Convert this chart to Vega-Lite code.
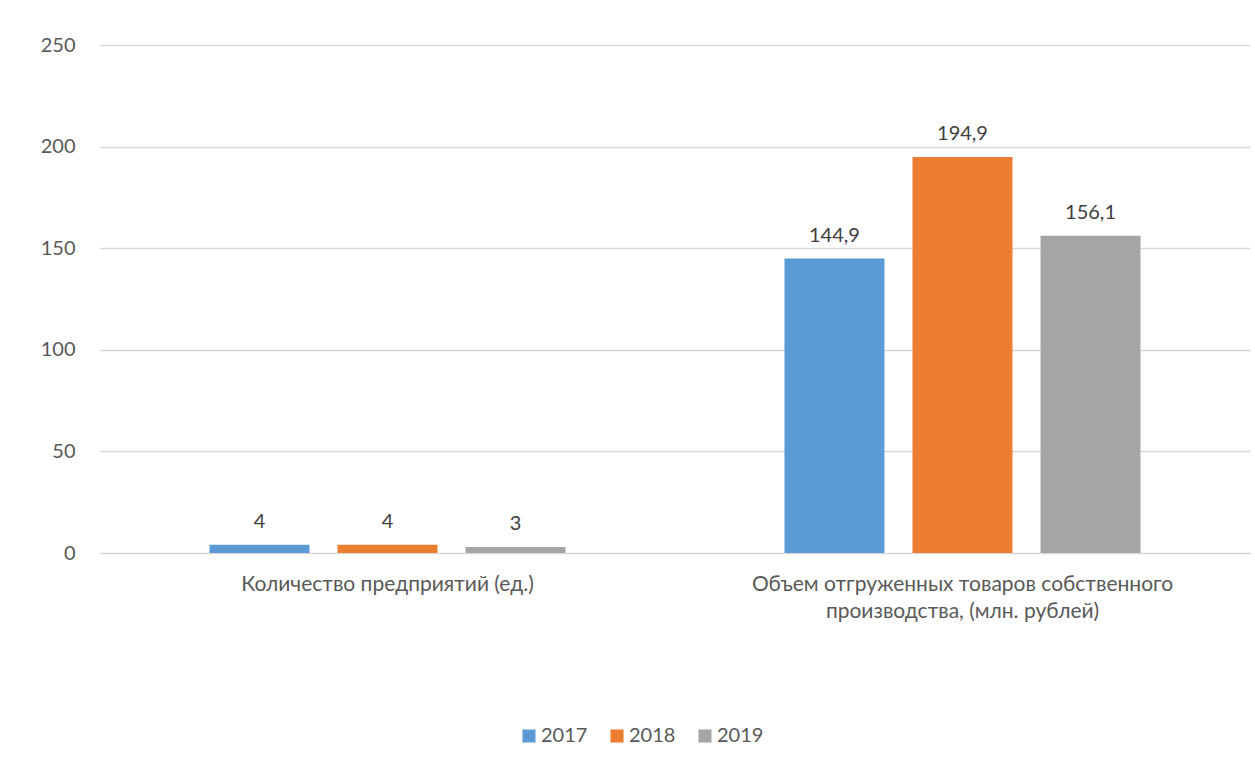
{
  "$schema": "https://vega.github.io/schema/vega-lite/v6.json",
  "width": 1150,
  "height": 508,
  "autosize": "none",
  "padding": {"left": 100, "top": 45, "right": 5, "bottom": 212},
  "background": "white",
  "config": {
    "font": "Lato",
    "view": {"stroke": null},
    "locale": {"number": {"decimal": ",", "thousands": " ", "grouping": [3], "currency": ["", ""]}}
  },
  "data": {
    "values": [
      {"category": "Количество предприятий (ед.)", "year": "2017", "value": 4},
      {"category": "Количество предприятий (ед.)", "year": "2018", "value": 4},
      {"category": "Количество предприятий (ед.)", "year": "2019", "value": 3},
      {"category": "Объем отгруженных товаров собственного производства,  (млн. рублей)", "year": "2017", "value": 144.9},
      {"category": "Объем отгруженных товаров собственного производства,  (млн. рублей)", "year": "2018", "value": 194.9},
      {"category": "Объем отгруженных товаров собственного производства,  (млн. рублей)", "year": "2019", "value": 156.1}
    ]
  },
  "encoding": {
    "x": {
      "field": "category",
      "type": "nominal",
      "sort": null,
      "scale": {"paddingInner": 0, "paddingOuter": 0},
      "axis": {
        "title": null,
        "labelAngle": 0,
        "labelFontSize": 21,
        "labelColor": "#595959",
        "labelPadding": 20,
        "labelLineHeight": 27,
        "labelLimit": 1000,
        "ticks": false,
        "domain": true,
        "domainColor": "#d9d9d9",
        "labelExpr": "datum.value == 'Количество предприятий (ед.)' ? datum.label : ['Объем отгруженных товаров собственного', 'производства,  (млн. рублей)']"
      }
    },
    "xOffset": {
      "field": "year",
      "type": "nominal",
      "scale": {"paddingInner": 0.219, "paddingOuter": 0.855}
    },
    "y": {
      "field": "value",
      "type": "quantitative",
      "scale": {"domain": [0, 250], "nice": false},
      "axis": {
        "title": null,
        "values": [0, 50, 100, 150, 200, 250],
        "labelFontSize": 20,
        "labelColor": "#595959",
        "labelPadding": 25,
        "ticks": false,
        "domain": false,
        "gridColor": "#d9d9d9",
        "gridWidth": 1.3
      }
    }
  },
  "layer": [
    {
      "mark": {"type": "bar"},
      "encoding": {
        "color": {
          "field": "year",
          "type": "nominal",
          "scale": {"domain": ["2017", "2018", "2019"], "range": ["#5b9bd5", "#ed7d31", "#a5a5a5"]},
          "legend": {
            "title": null,
            "orient": "none",
            "direction": "horizontal",
            "legendX": 419,
            "legendY": 681,
            "symbolType": "square",
            "symbolSize": 170,
            "symbolStrokeWidth": 0,
            "labelFontSize": 20,
            "labelColor": "#595959",
            "columnPadding": 19,
            "labelOffset": 2
          }
        }
      }
    },
    {
      "mark": {"type": "text", "dy": -23, "fontSize": 20, "color": "#404040"},
      "encoding": {
        "text": {"field": "value", "type": "quantitative", "format": ".1~f"}
      }
    }
  ]
}
